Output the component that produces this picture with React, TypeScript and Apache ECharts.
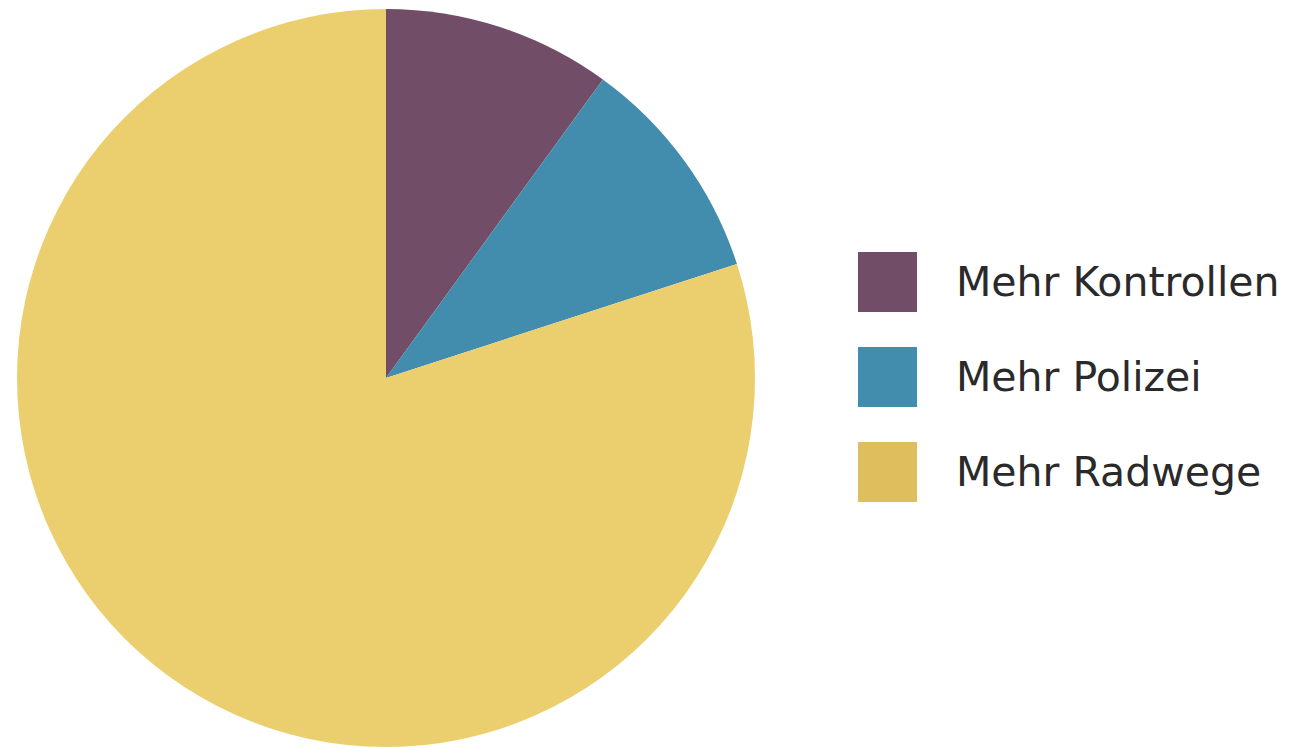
import React, { useEffect, useRef } from "react";
import * as echarts from "echarts";

const categories = ["Mehr Kontrollen", "Mehr Polizei", "Mehr Radwege"];
const values = [10, 10, 80];
const sliceColors = ["#714D67", "#428CAE", "#EBCF6F"];
const legendColors = ["#714D67", "#428CAE", "#DFBE5E"];

export default function App() {
  const ref = useRef<HTMLDivElement>(null);
  useEffect(() => {
    document.body.style.margin = "0";
    const chart = echarts.init(ref.current!, null, { renderer: "svg" });
    chart.setOption({
      animation: false,
      backgroundColor: "#ffffff",
      legend: {
        orient: "vertical",
        left: 858,
        top: 252,
        padding: 0,
        itemWidth: 59,
        itemHeight: 60,
        itemGap: 35,
        icon: "rect",
        data: categories.map((c, i) => ({ name: c, itemStyle: { color: legendColors[i] } })),
        textStyle: {
          fontFamily: "DejaVu Sans",
          fontSize: 41,
          color: "#2a2a2a",
          padding: [0, 0, 0, 34],
        },
        selectedMode: false,
      },
      series: [
        {
          type: "pie",
          center: [386, 378],
          radius: 369,
          startAngle: 90,
          clockwise: true,
          label: { show: false },
          labelLine: { show: false },
          emphasis: { disabled: true },
          itemStyle: { borderWidth: 0 },
          data: categories.map((c, i) => ({
            name: c,
            value: values[i],
            itemStyle: { color: sliceColors[i] },
          })),
        },
      ],
    });
    return () => chart.dispose();
  }, []);
  return <div ref={ref} style={{ width: 1316, height: 748 }} />;
}
